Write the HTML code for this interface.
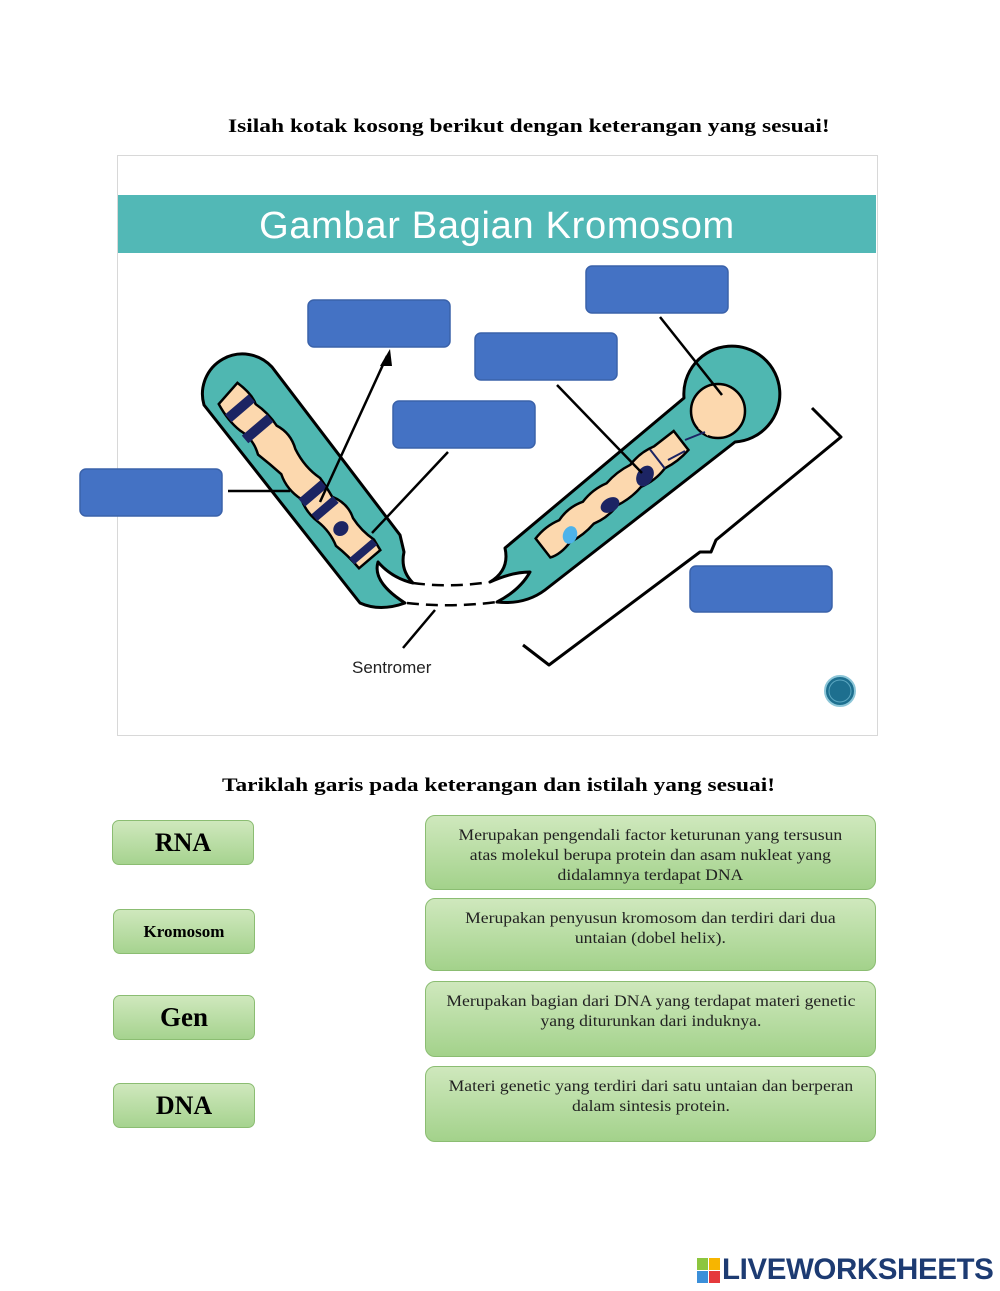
<!DOCTYPE html>
<html><head><meta charset="utf-8"><style>
body{margin:0;background:#fff;}
.wrap{position:relative;width:1000px;height:1291px;overflow:hidden;background:#fff;font-family:"Liberation Serif",serif;}
.h{position:absolute;font-weight:bold;font-size:19px;color:#000;white-space:nowrap;transform-origin:0 0;}
.lb{position:absolute;box-sizing:border-box;border:1px solid #8bbd72;border-radius:7px;background:linear-gradient(#cfe8bd,#a6d38f);display:flex;align-items:center;justify-content:center;font-weight:bold;color:#000;}
.rb{position:absolute;box-sizing:border-box;left:425px;width:451px;border:1px solid #8bbd72;border-radius:10px;background:linear-gradient(#cfe8bd,#a3d28b);text-align:center;font-size:16px;line-height:20px;color:#222;padding-top:10px;}
.rb span{display:inline-block;transform:scaleX(1.1);white-space:nowrap;}
</style></head><body><div class="wrap">
<div class="h" style="left:228px;top:116px;transform:scaleX(1.235);">Isilah kotak kosong berikut dengan keterangan yang sesuai!</div>
<svg style="position:absolute;left:0;top:0" width="1000" height="760">
<rect x="117.5" y="155.5" width="760" height="580" fill="#fff" stroke="#d8d8d8"/>
<rect x="118" y="195" width="758" height="58" fill="#52b8b6"/>
<text x="497" y="238" text-anchor="middle" font-family="Liberation Sans, sans-serif" font-size="38" fill="#fff" letter-spacing="0.7">Gambar Bagian Kromosom</text>
<path d="M272,367 L400,535 L404,552 Q400,570 413,583 Q392,578 378,562 Q372,582 405,603 Q380,612 360,603 L204,405 A40,40 0 0 1 272,367 Z" fill="#4fb7b1" stroke="#000" stroke-width="3" stroke-linejoin="round"/>
<g transform="translate(232,398) rotate(49.5)">
<path d="M-8,-14 Q10,-18 20,-14 Q35,-18 50,-16 Q65,-22 80,-15 Q100,-10 118,-15 Q130,-14 140,-12 Q155,-20 170,-14 Q185,-12 200,-16 L212,-14 L212,14 Q195,14 180,17 Q165,12 150,15 Q135,18 122,13 Q105,18 90,12 Q75,14 60,17 Q45,10 30,15 Q15,18 -4,14 Z" fill="#fcd8ae" stroke="#000" stroke-width="2.5"/>
<rect x="8" y="-15" width="10" height="31" fill="#1c2463"/>
<rect x="35" y="-16" width="10" height="33" fill="#1c2463"/>
<rect x="120" y="-14" width="10" height="29" fill="#1c2463"/>
<rect x="140" y="-13" width="9" height="28" fill="#1c2463"/>
<rect x="198" y="-15" width="8" height="30" fill="#1c2463"/>
<ellipse cx="170" cy="2" rx="7" ry="8" fill="#1c2463"/>
</g>
<path d="M490,582 Q510,570 505,548 L684,398 A48,48 0 1 1 735,442 L545,590 Q525,605 497,602 Q520,590 530,572 Q512,572 490,582 Z" fill="#4fb7b1" stroke="#000" stroke-width="3" stroke-linejoin="round"/>
<g transform="translate(543,548) rotate(-37.9)">
<path d="M0,-12 Q15,-16 30,-12 Q45,-17 60,-12 Q75,-16 90,-12 Q105,-15 120,-12 Q135,-16 150,-12 L175,-12 L175,12 Q160,15 145,12 Q130,16 115,12 Q100,15 85,12 Q70,16 55,12 Q40,15 25,12 Q10,16 0,12 Z" fill="#fcd8ae" stroke="#000" stroke-width="2.5"/>
<line x1="145" y1="-12" x2="145" y2="12" stroke="#1c2463" stroke-width="2"/>
</g>
<circle cx="718" cy="411" r="27" fill="#fcd8ae" stroke="#000" stroke-width="2.5"/>
<line x1="703" y1="432" x2="714" y2="418" stroke="#fcd8ae" stroke-width="12"/>
<line x1="685" y1="440" x2="705" y2="432" stroke="#1c2463" stroke-width="2"/>
<line x1="668" y1="460" x2="685" y2="451" stroke="#1c2463" stroke-width="2"/>
<ellipse cx="645" cy="476" rx="8" ry="11" fill="#1c2463" transform="rotate(30 645 476)"/>
<ellipse cx="610" cy="505" rx="10" ry="7" fill="#1c2463" transform="rotate(-30 610 505)"/>
<ellipse cx="570" cy="535" rx="7" ry="9" fill="#4eb3ea" transform="rotate(20 570 535)"/>
<path d="M413,583 Q450,588 490,582" fill="none" stroke="#000" stroke-width="2.5" stroke-dasharray="12,7"/>
<path d="M407,603 Q450,608 497,602" fill="none" stroke="#000" stroke-width="2.5" stroke-dasharray="12,7"/>
<line x1="228" y1="491" x2="290" y2="491" stroke="#000" stroke-width="2.5"/>
<line x1="320" y1="502" x2="387" y2="356" stroke="#000" stroke-width="2.5"/>
<polygon points="390,349 380,366 392,366" fill="#000"/>
<line x1="448" y1="452" x2="372" y2="533" stroke="#000" stroke-width="2.5"/>
<line x1="557" y1="385" x2="642" y2="473" stroke="#000" stroke-width="2.5"/>
<line x1="660" y1="317" x2="722" y2="395" stroke="#000" stroke-width="2.5"/>
<line x1="435" y1="610" x2="403" y2="648" stroke="#000" stroke-width="2.5"/>
<polyline points="812,408 841,437 716,540 711,552 700,552 549,665 523,645" fill="none" stroke="#000" stroke-width="3" stroke-linejoin="round"/>
<text x="352" y="673" font-family="Liberation Sans, sans-serif" font-size="17" fill="#222">Sentromer</text>
<circle cx="840" cy="691" r="15" fill="#1d6f8f" stroke="#8cc6d8" stroke-width="2"/>
<circle cx="840" cy="691" r="11" fill="none" stroke="#5aa6c0" stroke-width="1"/>
<g fill="#4472c4" stroke="#3a62aa" stroke-width="1.5">
<rect x="308" y="300" width="142" height="47" rx="6"/>
<rect x="586" y="266" width="142" height="47" rx="6"/>
<rect x="475" y="333" width="142" height="47" rx="6"/>
<rect x="393" y="401" width="142" height="47" rx="6"/>
<rect x="80" y="469" width="142" height="47" rx="6"/>
<rect x="690" y="566" width="142" height="46" rx="6"/>
</g>
</svg>
<div class="h" style="left:222px;top:775px;transform:scaleX(1.23);">Tariklah garis pada keterangan dan istilah yang sesuai!</div>
<div class="lb" style="left:112px;top:820px;width:142px;height:45px;font-size:26px;">RNA</div>
<div class="lb" style="left:113px;top:909px;width:142px;height:45px;font-size:17px;">Kromosom</div>
<div class="lb" style="left:113px;top:995px;width:142px;height:45px;font-size:27px;">Gen</div>
<div class="lb" style="left:113px;top:1083px;width:142px;height:45px;font-size:26px;">DNA</div>
<div class="rb" style="top:815px;height:75px;"><span>Merupakan pengendali factor keturunan yang tersusun<br>atas molekul berupa protein dan asam nukleat yang<br>didalamnya terdapat DNA</span></div>
<div class="rb" style="top:898px;height:73px;"><span>Merupakan penyusun kromosom dan terdiri dari dua<br>untaian (dobel helix).</span></div>
<div class="rb" style="top:981px;height:76px;"><span>Merupakan bagian dari DNA yang terdapat materi genetic<br>yang diturunkan dari induknya.</span></div>
<div class="rb" style="top:1066px;height:76px;"><span>Materi genetic yang terdiri dari satu untaian dan berperan<br>dalam sintesis protein.</span></div>
<svg style="position:absolute;left:697px;top:1258px" width="24" height="26">
<rect x="0" y="0" width="11" height="12" fill="#8cc63f"/><rect x="12" y="0" width="11" height="12" fill="#f7b500"/>
<rect x="0" y="13" width="11" height="12" fill="#3b8fd9"/><rect x="12" y="13" width="11" height="12" fill="#e5393c"/>
</svg>
<div style="position:absolute;left:722px;top:1253px;font-family:'Liberation Sans',sans-serif;font-weight:bold;font-size:29.5px;color:#1d3b72;letter-spacing:-0.4px;">LIVEWORKSHEETS</div>
</div></body></html>
